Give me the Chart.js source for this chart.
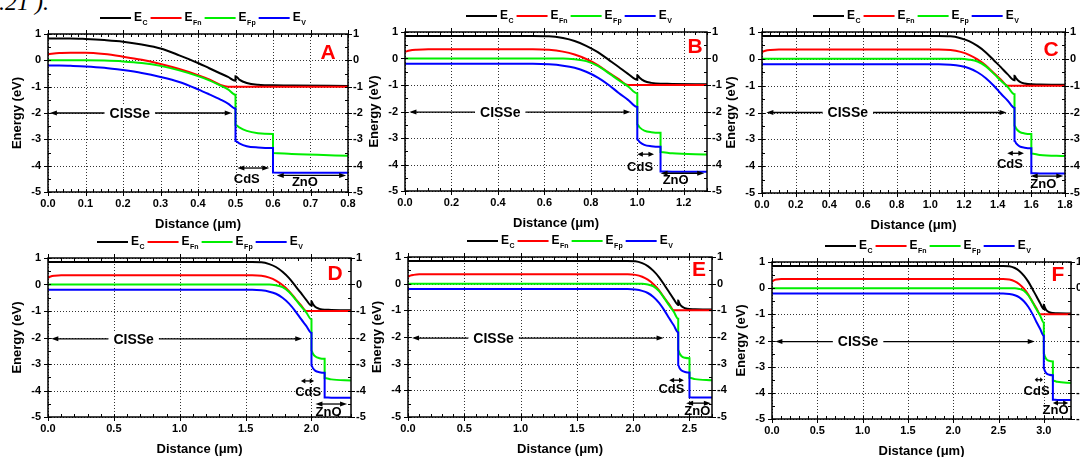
<!DOCTYPE html>
<html>
<head>
<meta charset="utf-8">
<script src="https://cdn.jsdelivr.net/npm/chart.js@4.4.0/dist/chart.umd.min.js"></script>
<style>
html, body { margin: 0; padding: 0; background: #fff; width: 1080px; height: 457px; overflow: hidden; position: relative; }
canvas { position: absolute; }
#cut { position: absolute; left: -1px; top: -11px; font: italic 24px 'Liberation Serif', serif; white-space: pre; }
</style>
</head>
<body>
<div id="cut">.21 ).</div>
<script>
// ---- data (energies in eV, distance in um) ----
// panel A: thin absorber, the whole CISSe layer is bent
const xA   = [0, 0.03, 0.06, 0.1, 0.15, 0.2, 0.25, 0.3, 0.35, 0.4, 0.43, 0.46, 0.48, 0.5, 0.5, 0.51, 0.53, 0.56, 0.6, 0.6, 0.65, 0.8];
const ecA  = [0.83, 0.83, 0.83, 0.81, 0.77, 0.71, 0.6, 0.45, 0.19, -0.1, -0.3, -0.5, -0.63, -0.78, -0.6, -0.73, -0.86, -0.93, -0.95, -0.95, -0.96, -0.97];
const efnA = [0.23, 0.28, 0.29, 0.29, 0.24, 0.14, 0.02, -0.14, -0.33, -0.56, -0.72, -0.93, -1.0, -1.0, -1.0, -1.0, -1.0, -1.0, -1.0, -1.0, -1.0, -1.0];
const efpA = [0, 0, 0, 0, -0.01, -0.04, -0.1, -0.21, -0.38, -0.6, -0.76, -0.96, -1.1, -1.31, -2.45, -2.55, -2.68, -2.77, -2.8, -3.52, -3.56, -3.62];
const evA  = [-0.2, -0.2, -0.21, -0.23, -0.28, -0.37, -0.48, -0.63, -0.82, -1.1, -1.29, -1.49, -1.64, -1.83, -3.06, -3.15, -3.26, -3.31, -3.33, -4.26, -4.27, -4.27];

// panels B-F: flat bulk, bending in the last ~0.45 um before CdS
const xB = [0, 0.02, 0.05, 0.1, 0.55, 0.62, 0.68, 0.73, 0.78, 0.83, 0.88, 0.92, 0.96, 1.0, 1.0, 1.01, 1.03, 1.06, 1.1, 1.1, 1.15, 1.3];
const xC = [0, 0.02, 0.05, 0.1, 1.05, 1.12, 1.18, 1.23, 1.28, 1.33, 1.38, 1.42, 1.46, 1.5, 1.5, 1.51, 1.53, 1.56, 1.6, 1.6, 1.65, 1.8];
const xD = [0, 0.02, 0.05, 0.1, 1.55, 1.62, 1.68, 1.73, 1.78, 1.83, 1.88, 1.92, 1.96, 2.0, 2.0, 2.01, 2.03, 2.06, 2.1, 2.1, 2.15, 2.3];
const xE = [0, 0.02, 0.05, 0.1, 1.95, 2.02, 2.08, 2.13, 2.18, 2.23, 2.28, 2.32, 2.36, 2.4, 2.4, 2.41, 2.43, 2.46, 2.5, 2.5, 2.55, 2.7];
const xF = [0, 0.02, 0.05, 0.1, 2.55, 2.62, 2.68, 2.73, 2.78, 2.83, 2.88, 2.92, 2.96, 3.0, 3.0, 3.01, 3.03, 3.06, 3.1, 3.1, 3.15, 3.3];
const ecBF  = [0.85, 0.85, 0.85, 0.85, 0.85, 0.84, 0.77, 0.66, 0.48, 0.24, -0.07, -0.32, -0.58, -0.8, -0.63, -0.73, -0.85, -0.92, -0.95, -0.95, -0.96, -0.97];
const efnBF = [0.25, 0.3, 0.33, 0.35, 0.35, 0.33, 0.26, 0.15, -0.02, -0.25, -0.55, -0.78, -1.0, -1.0, -1.0, -1.0, -1.0, -1.0, -1.0, -1.0, -1.0, -1.0];
const efpBF = [0, 0, 0, 0, 0, 0, 0, -0.03, -0.1, -0.28, -0.57, -0.82, -1.05, -1.32, -2.48, -2.6, -2.72, -2.78, -2.8, -3.53, -3.58, -3.62];
const evBF  = [-0.2, -0.2, -0.2, -0.2, -0.2, -0.22, -0.27, -0.35, -0.5, -0.72, -1.02, -1.3, -1.56, -1.83, -3.05, -3.15, -3.26, -3.31, -3.33, -4.26, -4.27, -4.27];

const legendItems = [['E', 'C'], ['E', 'Fn'], ['E', 'Fp'], ['E', 'V']];
const lineColors = ['#000000', '#ff0000', '#00ee00', '#0000ff'];

// ---- layout: plot box in page pixels, axis ranges, label spots ----
const panels = [
  { id: 'A', left: 48, top: 34, right: 348, bottom: 192, xMax: 0.8, xStep: 0.1, xMinor: 4,
    xs: xA, ec: ecA, efn: efnA, efp: efpA, ev: evA, legendX: 52, letterOff: [20, 19],
    notes: { cisse: [0.005, 0.49, -2.0, 0.218], cds: [0.505, 0.59, -4.09, 0.53, -4.53], zno: [0.61, 0.795, -4.37, 0.685, -4.63] } },
  { id: 'B', left: 405, top: 32, right: 707, bottom: 191, xMax: 1.3, xStep: 0.2, xMinor: 3,
    xs: xB, ec: ecBF, efn: efnBF, efp: efpBF, ev: evBF, legendX: 61, letterOff: [12, 15],
    notes: { cisse: [0.019, 0.971, -2.02, 0.41], cds: [1.0, 1.072, -3.61, 1.012, -4.11], zno: [1.1, 1.288, -4.33, 1.165, -4.61] } },
  { id: 'C', left: 762, top: 32, right: 1065, bottom: 193, xMax: 1.8, xStep: 0.2, xMinor: 3,
    xs: xC, ec: ecBF, efn: efnBF, efp: efpBF, ev: evBF, legendX: 51, letterOff: [14, 18],
    notes: { cisse: [0.026, 1.453, -2.0, 0.51], cds: [1.457, 1.556, -3.52, 1.473, -3.94], zno: [1.596, 1.79, -4.37, 1.671, -4.68] } },
  { id: 'D', left: 48, top: 258, right: 351, bottom: 417, xMax: 2.3, xStep: 0.5, xMinor: 4,
    xs: xD, ec: ecBF, efn: efnBF, efp: efpBF, ev: evBF, legendX: 49, letterOff: [16, 16],
    notes: { cisse: [0.025, 1.93, -2.05, 0.65], cds: [1.92, 2.02, -3.64, 1.975, -4.09], zno: [2.03, 2.27, -4.51, 2.13, -4.83] } },
  { id: 'E', left: 408, top: 257, right: 712, bottom: 417, xMax: 2.7, xStep: 0.5, xMinor: 4,
    xs: xE, ec: ecBF, efn: efnBF, efp: efpBF, ev: evBF, legendX: 59, letterOff: [13, 13],
    notes: { cisse: [0.036, 2.27, -2.04, 0.76], cds: [2.32, 2.45, -3.62, 2.34, -3.95], zno: [2.47, 2.69, -4.48, 2.57, -4.8] } },
  { id: 'F', left: 772, top: 262, right: 1071, bottom: 419, xMax: 3.3, xStep: 0.5, xMinor: 4,
    xs: xF, ec: ecBF, efn: efnBF, efp: efpBF, ev: evBF, legendX: 53, letterOff: [13, 13],
    notes: { cisse: [0.037, 2.9, -2.04, 0.95], cds: [2.9, 2.99, -3.5, 2.92, -3.94], zno: [3.1, 3.27, -4.39, 3.13, -4.68] } }
];

const FAMILY = '"Liberation Sans", Arial, sans-serif';
const tickFont = { family: FAMILY, size: 11, weight: 'bold' };

function arrow(ctx, x1, x2, y) {
  const hl = Math.min(7, (x2 - x1) / 3), hw = 2.5;
  ctx.lineWidth = 1.3;
  ctx.beginPath(); ctx.moveTo(x1 + hl - 1, y); ctx.lineTo(x2 - hl + 1, y); ctx.stroke();
  ctx.beginPath(); ctx.moveTo(x1, y); ctx.lineTo(x1 + hl, y - hw); ctx.lineTo(x1 + hl, y + hw); ctx.closePath(); ctx.fill();
  ctx.beginPath(); ctx.moveTo(x2, y); ctx.lineTo(x2 - hl, y - hw); ctx.lineTo(x2 - hl, y + hw); ctx.closePath(); ctx.fill();
}

function bandPlugin(p) {
  return {
    id: 'band' + p.id,
    beforeDatasetsDraw(chart) {
      const { ctx, chartArea: a, scales } = chart;
      ctx.save();
      ctx.strokeStyle = '#333'; ctx.lineWidth = 1; ctx.setLineDash([1, 2]);
      ctx.beginPath();
      scales.x.ticks.forEach(t => {
        const px = Math.round(scales.x.getPixelForValue(t.value)) + 0.5;
        ctx.moveTo(px, a.top); ctx.lineTo(px, a.bottom);
      });
      scales.y.ticks.forEach(t => {
        const py = Math.round(scales.y.getPixelForValue(t.value)) + 0.5;
        ctx.moveTo(a.left, py); ctx.lineTo(a.right, py);
      });
      ctx.stroke();
      ctx.restore();
    },
    afterDatasetsDraw(chart) {
      const { ctx, scales } = chart;
      const X = v => scales.x.getPixelForValue(v), Y = v => scales.y.getPixelForValue(v);
      const n = p.notes;
      ctx.save();
      ctx.fillStyle = '#000'; ctx.strokeStyle = '#000';
      arrow(ctx, X(n.cisse[0]), X(n.cisse[1]), Y(n.cisse[2]));
      arrow(ctx, X(n.cds[0]), X(n.cds[1]), Y(n.cds[2]));
      arrow(ctx, X(n.zno[0]), X(n.zno[1]), Y(n.zno[2]));
      ctx.textAlign = 'center'; ctx.textBaseline = 'middle';
      ctx.font = 'bold 14px ' + FAMILY;
      const cx = X(n.cisse[3]), cy = Y(n.cisse[2]);
      const tw = ctx.measureText('CISSe').width;
      ctx.fillStyle = '#fff'; ctx.fillRect(cx - tw / 2 - 5, cy - 7, tw + 10, 14);
      ctx.fillStyle = '#000'; ctx.fillText('CISSe', cx, cy + 1);
      ctx.font = 'bold 13px ' + FAMILY;
      ctx.fillText('CdS', X(n.cds[3]), Y(n.cds[4]));
      ctx.fillText('ZnO', X(n.zno[3]), Y(n.zno[4]));
      ctx.restore();
    },
    afterDraw(chart) {
      const { ctx, chartArea: a, scales } = chart;
      const X = v => scales.x.getPixelForValue(v), Y = v => scales.y.getPixelForValue(v);
      ctx.save();
      // frame
      ctx.strokeStyle = '#000'; ctx.lineWidth = 1.5;
      ctx.strokeRect(a.left, a.top, a.right - a.left, a.bottom - a.top);
      // ticks: major outward, minor inward
      ctx.lineWidth = 1;
      ctx.beginPath();
      const xs = p.xStep / (p.xMinor + 1);
      for (let k = 0; k * xs <= p.xMax + 1e-9; k++) {
        const px = Math.round(X(k * xs)) + 0.5;
        const maj = k % (p.xMinor + 1) === 0;
        ctx.moveTo(px, a.bottom - 3); ctx.lineTo(px, a.bottom + (maj ? 4 : 0));
        ctx.moveTo(px, a.top + 3); ctx.lineTo(px, a.top - (maj ? 4 : 0));
      }
      for (let k = 0; k <= 12; k++) {
        const py = Math.round(Y(-5 + k * 0.5)) + 0.5;
        const maj = k % 2 === 0;
        ctx.moveTo(a.left + 3, py); ctx.lineTo(a.left - (maj ? 4 : 0), py);
        ctx.moveTo(a.right - 3, py); ctx.lineTo(a.right + (maj ? 4 : 0), py);
      }
      ctx.stroke();
      // legend with subscripts
      let lx = a.left + p.legendX;
      const ly = a.top - 16;
      ctx.textAlign = 'left'; ctx.textBaseline = 'middle';
      legendItems.forEach(([main, sub], i) => {
        ctx.strokeStyle = lineColors[i]; ctx.lineWidth = 2;
        ctx.beginPath(); ctx.moveTo(lx, ly); ctx.lineTo(lx + 31, ly); ctx.stroke();
        lx += 34;
        ctx.fillStyle = '#000';
        ctx.font = 'bold 12px ' + FAMILY;
        ctx.fillText(main, lx, ly);
        lx += ctx.measureText(main).width + 0.5;
        ctx.font = 'bold 7px ' + FAMILY;
        ctx.fillText(sub, lx, ly + 5);
        lx += ctx.measureText(sub).width + 3;
      });
      // panel letter
      ctx.fillStyle = '#ff0000'; ctx.textAlign = 'center';
      ctx.font = 'bold 21px ' + FAMILY;
      ctx.fillText(p.id, a.right - p.letterOff[0], a.top + p.letterOff[1]);
      // axis titles
      ctx.fillStyle = '#000';
      ctx.font = 'bold 13px ' + FAMILY;
      ctx.fillText('Distance (\u03bcm)', (a.left + a.right) / 2, a.bottom + 32);
      ctx.translate(a.left - 31, (a.top + a.bottom) / 2);
      ctx.rotate(-Math.PI / 2);
      ctx.fillText('Energy (eV)', 0, 0);
      ctx.restore();
    }
  };
}

function buildPanel(p) {
  const cv = document.createElement('canvas');
  cv.width = 48 + (p.right - p.left) + 22;
  cv.height = 34 + (p.bottom - p.top) + 42;
  cv.style.left = (p.left - 48) + 'px';
  cv.style.top = (p.top - 34) + 'px';
  document.body.appendChild(cv);
  const pts = arr => p.xs.map((x, i) => ({ x: x, y: arr[i] }));
  const yAxis = (pos, w, pad) => ({
    type: 'linear', position: pos, min: -5, max: 1,
    grid: { display: false, drawTicks: false }, border: { display: false },
    ticks: { stepSize: 1, padding: pad, color: '#000', font: tickFont, callback: v => String(Math.round(v)) },
    afterFit: s => { s.width = w; }
  });
  new Chart(cv, {
    type: 'line',
    data: {
      datasets: [
        { label: 'Ec', data: pts(p.ec), borderColor: lineColors[0], order: 4 },
        { label: 'EFn', data: pts(p.efn), borderColor: lineColors[1], order: 3 },
        { label: 'EFp', data: pts(p.efp), borderColor: lineColors[2], order: 2 },
        { label: 'Ev', data: pts(p.ev), borderColor: lineColors[3], order: 1 }
      ]
    },
    options: {
      responsive: false,
      animation: false,
      layout: { padding: { top: 34, left: 0, right: 0, bottom: 0 } },
      elements: { point: { radius: 0 }, line: { borderWidth: 2, cubicInterpolationMode: 'monotone' } },
      plugins: { legend: { display: false }, tooltip: { enabled: false } },
      scales: {
        x: {
          type: 'linear', position: 'bottom', min: 0, max: p.xMax,
          grid: { display: false, drawTicks: false }, border: { display: false },
          ticks: { stepSize: p.xStep, includeBounds: false, autoSkip: false, maxRotation: 0, padding: 5,
                   color: '#000', font: tickFont, callback: v => v.toFixed(1) },
          afterFit: s => { s.height = 42; }
        },
        y: yAxis('left', 48, 7),
        y2: yAxis('right', 22, 5)
      }
    },
    plugins: [bandPlugin(p)]
  });
}

panels.forEach(buildPanel);
</script>
</body>
</html>
